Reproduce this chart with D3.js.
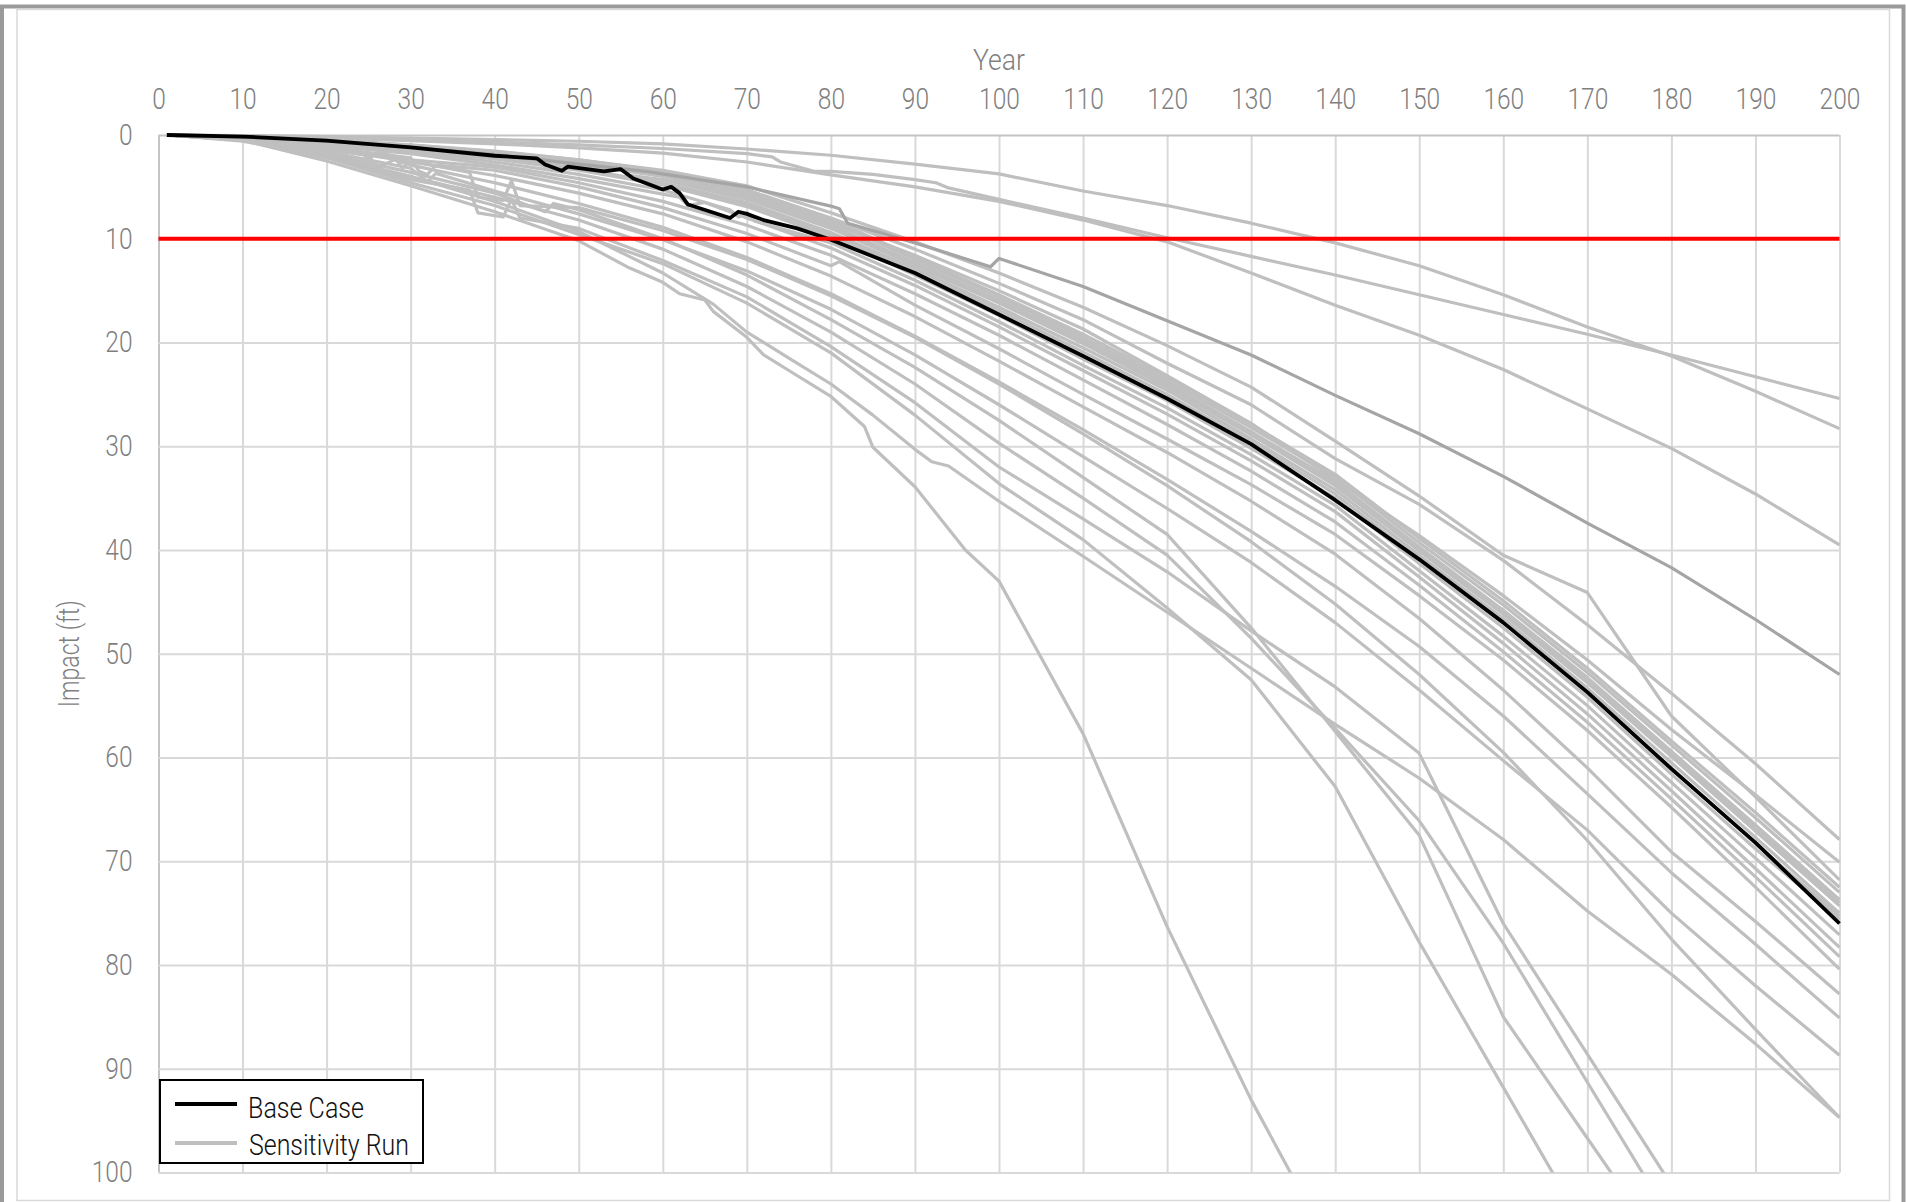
<!DOCTYPE html>
<html><head><meta charset="utf-8">
<script src="https://cdn.jsdelivr.net/npm/d3@7"></script>
<style>
html,body{margin:0;padding:0;background:#fff;}
svg{display:block;}
</style></head><body>
<svg id="chart" width="1906" height="1202"></svg>
<script>
// ---------- DATA ----------
const xTickValues = [0,10,20,30,40,50,60,70,80,90,100,110,120,130,140,150,160,170,180,190,200];
const yTickValues = [0,10,20,30,40,50,60,70,80,90,100];
const xAxisTitle = "Year";
const yAxisTitle = "Impact (ft)";
const thresholdValue = 10;
const legendLabels = ["Base Case","Sensitivity Run"];

const baseCase = [[1,0],[10,0.15],[20,0.55],[30,1.2],[40,2.0],[45,2.25],[46,2.85],[48,3.45],[48.7,3.05],[53,3.5],[55,3.3],[56.5,4.2],[60,5.25],[61,5.0],[62,5.6],[63,6.7],[68,8.0],[69,7.4],[70,7.6],[72,8.2],[76,9.0],[80,10.1],[90,13.3],[100,17.3],[110,21.3],[120,25.4],[130,29.8],[140,35.2],[150,40.9],[160,47.0],[170,53.7],[180,61.1],[190,68.2],[200,76.0]];

const runA = [[1,0],[10,0.05],[20,0.15],[30,0.3],[40,0.45],[50,0.6],[60,0.85],[70,1.35],[80,1.95],[90,2.8],[100,3.75],[110,5.4],[120,6.8],[130,8.5],[140,10.4],[150,12.6],[160,15.4],[170,18.5],[180,21.3],[190,24.7],[200,28.3]];
const runB = [[1,0],[10,0.1],[20,0.25],[30,0.45],[40,0.7],[50,0.95],[60,1.3],[70,1.8],[73,2.1],[74,2.6],[78,3.5],[80,3.5],[85,3.8],[90,4.3],[92.5,4.6],[94,5.1],[100,6.2],[110,8.0],[120,9.9],[130,11.7],[140,13.5],[150,15.4],[160,17.3],[170,19.2],[180,21.2],[190,23.3],[200,25.4]];
const runC = [[1,0],[10,0.1],[20,0.3],[30,0.55],[40,0.85],[50,1.25],[60,1.75],[70,2.6],[80,3.85],[90,5.0],[100,6.4],[110,8.2],[120,10.3],[130,13.3],[140,16.4],[150,19.3],[160,22.6],[170,26.4],[180,30.2],[190,34.6],[200,39.5]];
const runDark = [[1,0],[10,0.2],[20,0.6],[30,1.2],[40,1.9],[50,2.8],[58,3.5],[70,5.0],[80,6.85],[81,7.1],[82,8.5],[90,10.4],[99,12.7],[100,11.9],[110,14.6],[120,17.9],[130,21.2],[140,25.1],[150,28.8],[160,32.9],[170,37.4],[180,41.7],[190,46.7],[200,52.0]];
const runK = [[1,0],[10,0.15],[20,0.5],[30,1.0],[40,1.6],[50,2.4],[60,3.4],[70,4.9],[80,7.5],[90,10.3],[100,13.3],[110,16.6],[120,20.3],[130,24.3],[140,29.5],[150,34.8],[160,40.5],[170,44.1],[180,56.0],[190,63.8],[200,71.8]];
const runE = [[1,0],[10,0.15],[20,0.5],[30,1.05],[40,1.7],[50,2.6],[60,3.7],[70,5.3],[80,8.0],[90,11.0],[100,14.3],[110,17.8],[120,22.0],[130,26.0],[140,31.2],[150,35.6],[160,41.0],[170,47.2],[180,53.8],[190,60.6],[200,67.9]];
const runT = [[1,0],[10,0.15],[20,0.5],[30,1.1],[40,1.8],[50,2.8],[60,3.9],[70,5.7],[80,8.5],[90,11.6],[100,15.0],[110,18.7],[120,23.2],[130,27.8],[140,33.2],[150,38.6],[160,44.4],[170,50.6],[180,57.3],[190,63.6],[200,70.1]];
const runB1 = [[1,0],[10,0.2],[20,0.55],[30,1.0],[40,1.6],[50,2.5],[60,3.6],[70,5.5],[80,8.3],[90,12.0],[100,15.6],[110,19.5],[120,23.7],[130,28.2],[140,33.0],[150,39.3],[160,45.3],[170,51.8],[180,58.8],[190,65.8],[200,73.0]];
const runB2 = [[1,0],[10,0.2],[20,0.6],[30,1.1],[40,1.8],[50,2.7],[60,3.9],[70,5.9],[80,8.7],[90,12.3],[100,15.9],[110,19.8],[120,24.0],[130,28.6],[140,33.4],[150,39.7],[160,45.8],[170,52.3],[180,59.4],[190,66.5],[200,73.7]];
const runB3 = [[1,0],[10,0.25],[20,0.65],[30,1.2],[40,1.95],[50,2.9],[53,3.4],[55,3.2],[56,3.9],[60,4.3],[70,6.2],[80,9.0],[90,12.6],[100,16.2],[110,20.1],[120,24.3],[130,28.9],[140,33.8],[150,40.1],[160,46.2],[170,52.8],[180,59.9],[190,67.1],[200,74.3]];
const runB4 = [[1,0],[10,0.25],[20,0.7],[26,1.0],[27,1.6],[28,1.2],[30,1.35],[40,2.1],[45,2.6],[46,3.1],[48,3.2],[50,3.3],[60,4.6],[70,6.5],[80,9.4],[90,12.9],[100,16.6],[110,20.5],[120,24.6],[130,29.3],[140,34.2],[150,40.5],[160,46.6],[170,53.3],[180,60.5],[190,67.7],[200,75.0]];
const runB5 = [[1,0],[10,0.3],[20,0.8],[30,1.45],[40,2.3],[50,3.4],[60,4.8],[70,6.9],[80,9.8],[90,13.5],[100,17.4],[110,21.6],[120,25.6],[130,30.2],[140,35.0],[150,41.3],[160,47.5],[170,54.2],[180,61.6],[190,68.8],[200,75.6]];
const runB6 = [[1,0],[10,0.2],[20,0.6],[30,1.15],[40,1.85],[50,2.8],[60,4.0],[70,6.0],[80,8.9],[90,12.5],[100,16.1],[110,20.0],[120,24.2],[130,28.8],[140,33.6],[150,39.9],[160,46.0],[170,52.6],[180,59.7],[190,66.8],[200,74.0]];
const runB7 = [[1,0],[10,0.25],[20,0.75],[30,1.4],[40,2.2],[50,3.2],[60,4.7],[70,6.7],[80,9.6],[90,13.2],[100,16.9],[110,20.9],[120,25.0],[130,29.6],[140,34.6],[150,40.9],[160,47.0],[170,53.8],[180,61.0],[190,68.3],[200,75.3]];
const runB8 = [[1,0],[10,0.2],[20,0.5],[30,0.95],[40,1.55],[50,2.4],[60,3.5],[70,5.3],[80,8.1],[90,11.8],[100,15.4],[110,19.2],[120,23.4],[130,27.9],[140,32.7],[150,38.9],[160,44.9],[170,51.4],[180,58.4],[190,65.3],[200,72.5]];
const runC1 = [[1,0],[10,0.3],[20,0.9],[30,1.6],[40,2.6],[50,3.8],[60,5.3],[68,7.2],[69,7.9],[70,7.5],[71,8.3],[80,10.4],[90,14.0],[100,18.0],[110,22.2],[120,26.3],[130,30.8],[140,35.7],[150,42.0],[160,48.3],[170,55.0],[180,62.4],[190,69.7],[200,77.1]];
const runC2 = [[1,0],[10,0.3],[20,1.0],[30,1.8],[40,2.9],[50,4.2],[60,5.7],[62,6.0],[63,6.8],[65,6.5],[70,8.0],[80,10.9],[90,14.5],[100,18.5],[110,22.7],[120,26.9],[130,31.4],[140,36.3],[150,42.6],[160,49.0],[170,55.8],[180,63.2],[190,70.7],[200,78.3]];
const runC3 = [[1,0],[10,0.35],[20,1.1],[24,1.5],[25,2.4],[26,1.7],[28,2.0],[29,3.2],[30,2.4],[40,3.1],[50,4.6],[60,6.4],[70,8.7],[80,11.6],[90,15.3],[100,19.3],[110,23.6],[120,27.9],[130,32.4],[140,37.3],[150,43.4],[160,49.8],[170,56.6],[180,64.0],[190,71.5],[200,79.2]];
const runC4 = [[1,0],[10,0.4],[20,1.2],[30,2.2],[31,3.5],[32,3.8],[33,2.9],[40,3.4],[50,5.0],[60,7.0],[70,9.5],[80,12.6],[81,12.2],[90,16.4],[100,20.6],[110,25.0],[120,29.3],[130,33.7],[140,38.5],[150,44.4],[160,50.6],[170,57.4],[180,64.8],[190,72.5],[200,80.4]];
const runH = [[1,0],[10,0.4],[20,1.3],[30,2.6],[40,3.9],[50,5.6],[60,7.6],[70,10.3],[80,13.6],[90,17.5],[100,21.8],[110,26.2],[120,30.6],[130,35.3],[140,40.4],[150,46.6],[160,53.5],[170,61.0],[180,69.1],[190,75.8],[200,82.8]];
const runI = [[1,0],[10,0.4],[20,1.4],[25,2.0],[26,3.2],[28,2.4],[30,2.9],[40,4.6],[50,6.6],[60,8.9],[70,11.8],[80,15.3],[90,19.4],[100,23.8],[110,28.4],[120,33.2],[130,38.2],[140,43.5],[150,49.3],[160,56.0],[170,63.5],[180,71.1],[190,78.0],[200,85.1]];
const runJ = [[1,0],[10,0.5],[20,1.6],[30,3.2],[32,4.5],[33,3.7],[40,5.4],[50,7.6],[60,10.1],[70,13.1],[80,16.8],[90,21.2],[100,26.0],[110,31.0],[120,36.0],[130,41.2],[140,47.0],[150,53.5],[160,60.3],[170,67.0],[180,75.0],[190,82.0],[200,88.7]];
const runL2 = [[1,0],[10,0.4],[20,1.3],[30,2.5],[37,3.6],[38,6.0],[41,6.3],[42,4.4],[43,6.8],[50,7.0],[60,9.2],[70,12.0],[80,15.5],[90,19.5],[100,24.0],[110,28.8],[120,33.8],[130,39.2],[140,45.2],[150,52.0],[160,59.5],[170,68.0],[180,77.5],[190,86.2],[200,94.7]];
const runQ1 = [[1,0],[10,0.5],[20,1.8],[30,3.6],[40,5.6],[46,7.4],[47,6.6],[50,7.2],[60,10.0],[70,13.5],[80,17.8],[90,22.4],[100,27.5],[110,33.0],[120,38.5],[130,47.5],[140,57.5],[150,67.5],[160,85.0],[170,96.7],[180,108.4]];
const runQ2 = [[1,0],[10,0.5],[20,2.0],[30,4.0],[40,6.0],[50,8.2],[60,11.0],[70,14.6],[80,19.0],[90,24.0],[100,29.7],[110,35.0],[120,40.5],[130,48.5],[140,57.2],[150,66.1],[160,77.9],[170,91.3],[180,104.6]];
const runQ3 = [[1,0],[10,0.5],[20,2.1],[30,4.3],[37,5.3],[38,7.5],[41,7.9],[42,6.2],[43,8.0],[50,9.0],[60,12.1],[70,15.6],[80,20.4],[90,25.8],[100,32.0],[110,37.0],[120,42.1],[130,47.8],[140,53.2],[150,59.6],[160,76.0],[170,88.6],[180,101.2]];
const runS = [[1,0],[10,0.5],[20,2.2],[30,4.6],[40,6.8],[50,9.6],[60,12.4],[70,16.2],[80,21.0],[90,27.0],[100,33.6],[110,39.0],[120,45.6],[130,52.5],[140,62.8],[150,77.8],[160,91.8],[170,105.8]];
const runL1 = [[1,0],[10,0.6],[20,2.0],[30,4.0],[40,6.4],[50,9.3],[55,11.3],[60,13.3],[66,16.3],[70,19.0],[75,21.5],[80,24.0],[85,27.0],[90,30.3],[92,31.5],[94,31.9],[100,35.3],[110,40.6],[120,46.0],[130,51.4],[140,56.8],[150,62.0],[160,67.9],[170,74.8],[180,80.9],[190,87.6],[200,94.7]];
const runSteep = [[1,0],[10,0.5],[20,2.5],[30,4.9],[40,7.4],[50,10.2],[56,12.8],[60,14.2],[62,15.3],[65,15.9],[66,17.0],[70,19.5],[72,21.2],[75,22.7],[80,25.2],[84,28.1],[85,30.1],[90,33.9],[96,40.0],[100,43.0],[110,57.7],[120,76.3],[130,93.0],[140,108.0]];

const sensitivityRuns = [runA,runB,runC,runK,runE,runT,runB1,runB2,runB3,runB4,runB5,runB6,runB7,runB8,runC1,runC2,runC3,runC4,runH,runI,runJ,runL2,runQ1,runQ2,runQ3,runS,runL1,runSteep];

// ---------- DRAW ----------
const svg = d3.select('#chart');
const FONT = "Roboto,'Noto Sans',sans-serif";
const FS = '29px';
const plot = {left:158.5, right:1839.5, top:135, bottom:1172.5};
const x = d3.scaleLinear().domain([0,200]).range([plot.left, plot.right]);
const y = d3.scaleLinear().domain([0,100]).range([plot.top, plot.bottom]);

function styleText(sel, len){
  sel.style('font-family',FONT).style('font-size',FS).style('font-weight','300')
     .attr('textLength',len).attr('lengthAdjust','spacingAndGlyphs');
  return sel;
}

// frame
svg.append('rect').attr('x',2).attr('y',6.5).attr('width',1901.5).attr('height',1300)
  .attr('fill','none').attr('stroke','#9a9a9a').attr('stroke-width',4);
svg.append('rect').attr('x',17).attr('y',9.5).attr('width',1872.5).attr('height',1191)
  .attr('fill','none').attr('stroke','#d9d9d9').attr('stroke-width',1.5);

// axes + grid
const gx = svg.append('g').attr('transform',`translate(0,${plot.top})`)
  .call(d3.axisTop(x).tickValues(xTickValues).tickSizeInner(-(plot.bottom-plot.top)).tickSizeOuter(0).tickPadding(26));
const gy = svg.append('g').attr('transform',`translate(${plot.left},0)`)
  .call(d3.axisLeft(y).tickValues(yTickValues).tickSizeInner(-(plot.right-plot.left)).tickSizeOuter(0).tickPadding(26));
[gx,gy].forEach(g=>{
  g.attr('font-family',null).attr('font-size',null);
  g.select('.domain').remove();
  g.selectAll('.tick line').attr('stroke','#d9d9d9').attr('stroke-width',2);
  styleText(g.selectAll('.tick text').attr('fill','#7f7f7f'), d=>String(d).length*13.6);
});
gx.selectAll('.tick').filter(d=>d===0).select('line').attr('stroke','#c4c4c4');
gy.selectAll('.tick').filter(d=>d===0).select('line').attr('stroke','#c4c4c4');

// titles
styleText(svg.append('text').attr('x',(plot.left+plot.right)/2).attr('y',70).attr('text-anchor','middle')
  .attr('fill','#7f7f7f').text(xAxisTitle), 52);
styleText(svg.append('text').attr('transform',`translate(79,${(plot.top+plot.bottom)/2}) rotate(-90)`).attr('text-anchor','middle')
  .attr('fill','#7f7f7f').text(yAxisTitle), 107);

// clip
svg.append('clipPath').attr('id','plotclip').append('rect')
  .attr('x',plot.left-2).attr('y',plot.top-3).attr('width',plot.right-plot.left+4).attr('height',plot.bottom-plot.top+3);

const line = d3.line().x(d=>x(d[0])).y(d=>y(d[1]));
const lines = svg.append('g').attr('clip-path','url(#plotclip)');
lines.selectAll('path.run').data(sensitivityRuns).join('path').attr('class','run')
  .attr('d',line).attr('fill','none').attr('stroke','#bfbfbf').attr('stroke-width',3.2).attr('stroke-linejoin','round');
lines.append('path').datum(runDark).attr('d',line).attr('fill','none').attr('stroke','#a5a5a5').attr('stroke-width',3.2).attr('stroke-linejoin','round');
lines.append('path').datum(baseCase).attr('d',line).attr('fill','none').attr('stroke','#000').attr('stroke-width',3.8).attr('stroke-linejoin','round');
lines.append('line').attr('x1',x(0)).attr('x2',x(200)).attr('y1',y(thresholdValue)).attr('y2',y(thresholdValue))
  .attr('stroke','#ff0000').attr('stroke-width',4);

// legend
const lg = svg.append('g');
lg.append('rect').attr('x',160).attr('y',1080).attr('width',263).attr('height',83).attr('fill','#fff').attr('stroke','#000').attr('stroke-width',2);
lg.append('line').attr('x1',175).attr('x2',237).attr('y1',1104).attr('y2',1104).attr('stroke','#000').attr('stroke-width',3.8);
lg.append('line').attr('x1',175).attr('x2',237).attr('y1',1143).attr('y2',1143).attr('stroke','#bfbfbf').attr('stroke-width',3.8);
styleText(lg.append('text').attr('x',248).attr('y',1118).attr('fill','#111').text(legendLabels[0]), 116);
styleText(lg.append('text').attr('x',249).attr('y',1155).attr('fill','#111').text(legendLabels[1]), 160);
</script>
</body></html>
